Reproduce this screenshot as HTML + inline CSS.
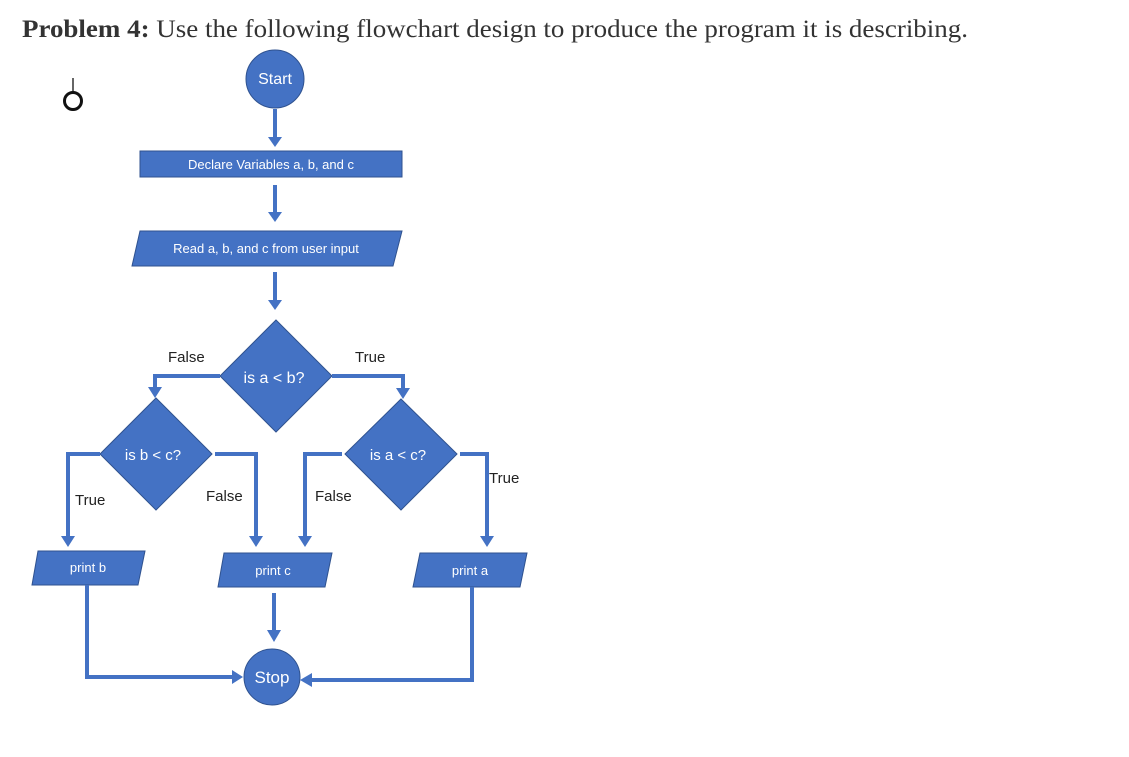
<!DOCTYPE html>
<html><head><meta charset="utf-8"><style>
html,body{margin:0;padding:0;background:#fff;}
svg{display:block;}
.w{font-family:"Liberation Sans",sans-serif;fill:#fff;}
.k{font-family:"Liberation Sans",sans-serif;fill:#222;font-size:15px;}
</style></head><body>
<svg width="1129" height="757" viewBox="0 0 1129 757" xmlns="http://www.w3.org/2000/svg">
<rect width="1129" height="757" fill="#fff"/>
<text x="22" y="37" font-family="Liberation Serif, serif" font-size="25" fill="#333" textLength="946" lengthAdjust="spacingAndGlyphs"><tspan font-weight="bold">Problem 4:</tspan> Use the following flowchart design to produce the program it is describing.</text>
<!-- small symbol -->
<line x1="73" y1="78" x2="73" y2="92" stroke="#333" stroke-width="1.5"/>
<circle cx="73" cy="101" r="8.5" fill="none" stroke="#111" stroke-width="3"/>

<g fill="#4472C4" stroke="#2F528F" stroke-width="1">
<circle cx="275" cy="79" r="29"/>
<rect x="140" y="151" width="262" height="26"/>
<polygon points="140,231 402,231 393,266 132,266"/>
<polygon points="276,320 332,376 276,432 220,376"/>
<polygon points="156,398 212,454 156,510 100,454"/>
<polygon points="401,399 457,454 401,510 345,454"/>
<polygon points="38,551 145,551 138,585 32,585"/>
<polygon points="224,553 332,553 325,587 218,587"/>
<polygon points="420,553 527,553 520,587 413,587"/>
<circle cx="272" cy="677" r="28"/>
</g>

<g stroke="#4472C4" stroke-width="4" fill="none">
<line x1="275" y1="109" x2="275" y2="137"/>
<line x1="275" y1="185" x2="275" y2="212"/>
<line x1="275" y1="272" x2="275" y2="300"/>
<polyline points="220,376 155,376 155,388"/>
<polyline points="332,376 403,376 403,389"/>
<polyline points="100,454 68,454 68,537"/>
<polyline points="215,454 256,454 256,537"/>
<polyline points="342,454 305,454 305,537"/>
<polyline points="460,454 487,454 487,537"/>
<line x1="274" y1="593" x2="274" y2="630"/>
<polyline points="87,585 87,677 232,677"/>
<polyline points="472,587 472,680 312,680"/>
</g>
<g fill="#4472C4">
<polygon points="268,137 282,137 275,147"/>
<polygon points="268,212 282,212 275,222"/>
<polygon points="268,300 282,300 275,310"/>
<polygon points="148,387 162,387 155,398"/>
<polygon points="396,388 410,388 403,399"/>
<polygon points="61,536 75,536 68,547"/>
<polygon points="249,536 263,536 256,547"/>
<polygon points="298,536 312,536 305,547"/>
<polygon points="480,536 494,536 487,547"/>
<polygon points="267,630 281,630 274,642"/>
<polygon points="232,670 232,684 243,677"/>
<polygon points="312,673 312,687 300,680"/>
</g>

<g class="w">
<text x="275" y="84" font-size="16" text-anchor="middle">Start</text>
<text x="271" y="169" font-size="13" text-anchor="middle">Declare Variables a, b, and c</text>
<text x="266" y="253" font-size="13" text-anchor="middle">Read a, b, and c from user input</text>
<text x="274" y="383" font-size="16" text-anchor="middle">is a &lt; b?</text>
<text x="153" y="460" font-size="15" text-anchor="middle">is b &lt; c?</text>
<text x="398" y="460" font-size="15" text-anchor="middle">is a &lt; c?</text>
<text x="88" y="572" font-size="13" text-anchor="middle">print b</text>
<text x="273" y="575" font-size="13" text-anchor="middle">print c</text>
<text x="470" y="575" font-size="13" text-anchor="middle">print a</text>
<text x="272" y="683" font-size="17" text-anchor="middle">Stop</text>
</g>
<g class="k">
<text x="168" y="362">False</text>
<text x="355" y="362">True</text>
<text x="75" y="505">True</text>
<text x="206" y="501">False</text>
<text x="315" y="501">False</text>
<text x="489" y="483">True</text>
</g>
</svg>
</body></html>
